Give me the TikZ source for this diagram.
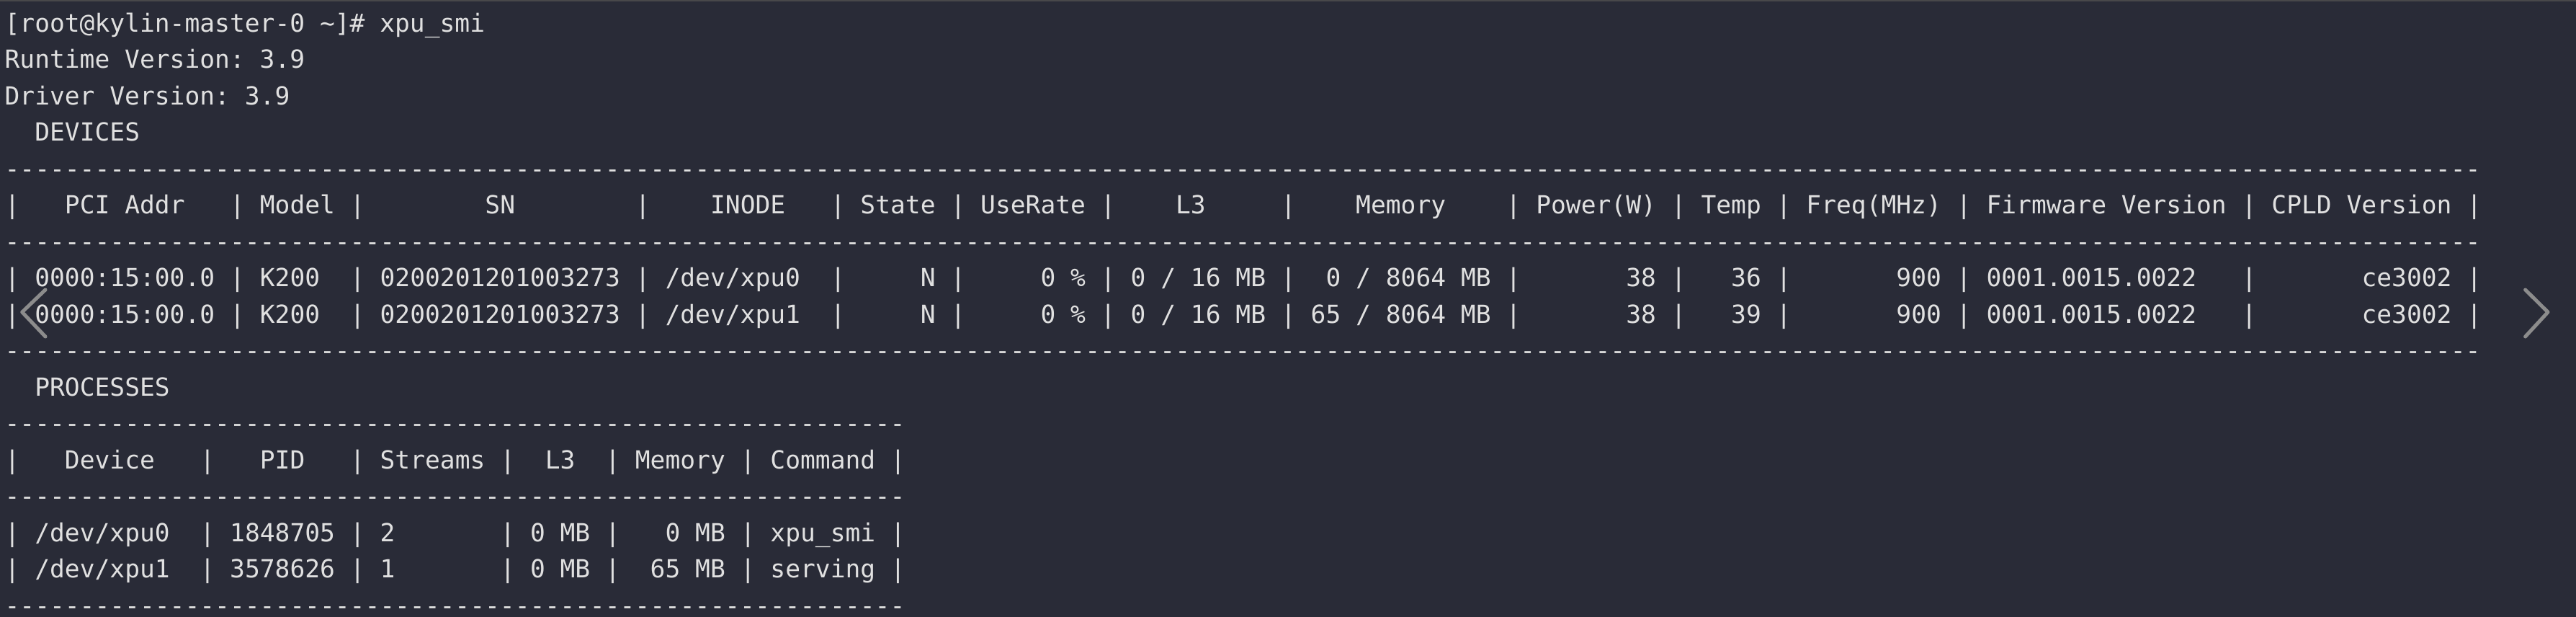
\documentclass[tikz,border=0pt]{standalone}
\usepackage{fontspec}
\setmonofont{DejaVu Sans Mono}
\usepackage{tikz}
\definecolor{termbg}{RGB}{41,43,55}
\definecolor{termfg}{RGB}{224,224,224}
\definecolor{termtop}{RGB}{72,72,74}
\definecolor{chevgray}{RGB}{140,140,140}
\tikzset{
  txt/.style={font=\ttfamily\fontsize{8.65pt}{10pt}\selectfont, text=termfg,
    anchor=base west, inner sep=0pt, outer sep=0pt},
  chev/.style={draw=chevgray, line width=1.25pt, line cap=round, line join=round},
}
\newcommand\dashrow[1]{\foreach \i in {1,...,#1}{-}}

\begin{document}
\begin{tikzpicture}[x=5.21pt, y=-12.625pt]
  \useasboundingbox[fill=termbg] (-1.65pt,11pt) rectangle (892.35pt,-203pt);
  \fill[termtop] (-1.65pt,11pt) rectangle (892.35pt,10.5pt);
% =========================================================
% (A) prompt and versions
% =========================================================
  \node[txt] (prompt) at (0,0) {[root@kylin-master-0 \textasciitilde]\# xpu\_smi};
  \node[txt] (runtime) at (0,1) {Runtime Version: 3.9};
  \node[txt] (driver) at (0,2) {Driver Version: 3.9};
% =========================================================
% (B) DEVICES table
% =========================================================
  \node[txt] (devtitle) at (2,3) {DEVICES};
  \foreach \r in {4,6,9}
    \node[txt] (devrule-\r) at (0,\r) {\dashrow{165}};
  \foreach \r in {5,7,8}
    \foreach \c in {0,15,23,42,55,63,73,85,100,111,118,130,149,164}
      \node[txt] (devbar-\r-\c) at (\c,\r) {|};
  % header
  \node[txt] (dh-pci) at (4,5) {PCI Addr};
  \node[txt] (dh-model) at (17,5) {Model};
  \node[txt] (dh-sn) at (32,5) {SN};
  \node[txt] (dh-inode) at (47,5) {INODE};
  \node[txt] (dh-state) at (57,5) {State};
  \node[txt] (dh-use) at (65,5) {UseRate};
  \node[txt] (dh-l3) at (78,5) {L3};
  \node[txt] (dh-mem) at (90,5) {Memory};
  \node[txt] (dh-pow) at (102,5) {Power(W)};
  \node[txt] (dh-temp) at (113,5) {Temp};
  \node[txt] (dh-freq) at (120,5) {Freq(MHz)};
  \node[txt] (dh-fw) at (132,5) {Firmware Version};
  \node[txt] (dh-cpld) at (151,5) {CPLD Version};
  % rows
  \foreach \r/\dev/\mem/\mc/\pow/\temp in {7/0/0/88/38/36, 8/1/65/87/38/39} {
    \node[txt] (d\dev-pci) at (2,\r) {0000:15:00.0};
    \node[txt] (d\dev-model) at (17,\r) {K200};
    \node[txt] (d\dev-sn) at (25,\r) {0200201201003273};
    \node[txt] (d\dev-inode) at (44,\r) {/dev/xpu\dev};
    \node[txt] (d\dev-state) at (61,\r) {N};
    \node[txt] (d\dev-use) at (69,\r) {0 \%};
    \node[txt] (d\dev-l3) at (75,\r) {0 / 16 MB};
    \node[txt] (d\dev-mem) at (\mc,\r) {\mem{} / 8064 MB};
    \node[txt] (d\dev-pow) at (108,\r) {\pow};
    \node[txt] (d\dev-temp) at (115,\r) {\temp};
    \node[txt] (d\dev-freq) at (126,\r) {900};
    \node[txt] (d\dev-fw) at (132,\r) {0001.0015.0022};
    \node[txt] (d\dev-cpld) at (157,\r) {ce3002};
  }
% =========================================================
% (C) PROCESSES table
% =========================================================
  \node[txt] (prctitle) at (2,10) {PROCESSES};
  \foreach \r in {11,13,16}
    \node[txt] (prcrule-\r) at (0,\r) {\dashrow{60}};
  \foreach \r in {12,14,15}
    \foreach \c in {0,13,23,33,40,49,59}
      \node[txt] (prcbar-\r-\c) at (\c,\r) {|};
  \node[txt] (ph-dev) at (4,12) {Device};
  \node[txt] (ph-pid) at (17,12) {PID};
  \node[txt] (ph-str) at (25,12) {Streams};
  \node[txt] (ph-l3) at (36,12) {L3};
  \node[txt] (ph-mem) at (42,12) {Memory};
  \node[txt] (ph-cmd) at (51,12) {Command};
  \node[txt] (p0-dev) at (2,14) {/dev/xpu0};
  \node[txt] (p0-pid) at (15,14) {1848705};
  \node[txt] (p0-str) at (25,14) {2};
  \node[txt] (p0-l3) at (35,14) {0 MB};
  \node[txt] (p0-mem) at (44,14) {0 MB};
  \node[txt] (p0-cmd) at (51,14) {xpu\_smi};
  \node[txt] (p1-dev) at (2,15) {/dev/xpu1};
  \node[txt] (p1-pid) at (15,15) {3578626};
  \node[txt] (p1-str) at (25,15) {1};
  \node[txt] (p1-l3) at (35,15) {0 MB};
  \node[txt] (p1-mem) at (43,15) {65 MB};
  \node[txt] (p1-cmd) at (51,15) {serving};
% =========================================================
% (D) viewer arrows
% =========================================================
  \draw[chev] (14.1pt,-89.5pt) -- (6.03pt,-97.25pt) -- (14.1pt,-105.75pt);
  \draw[chev] (874.75pt,-89.5pt) -- (882.6pt,-97.25pt) -- (874.75pt,-105.75pt);
\end{tikzpicture}
\end{document}
